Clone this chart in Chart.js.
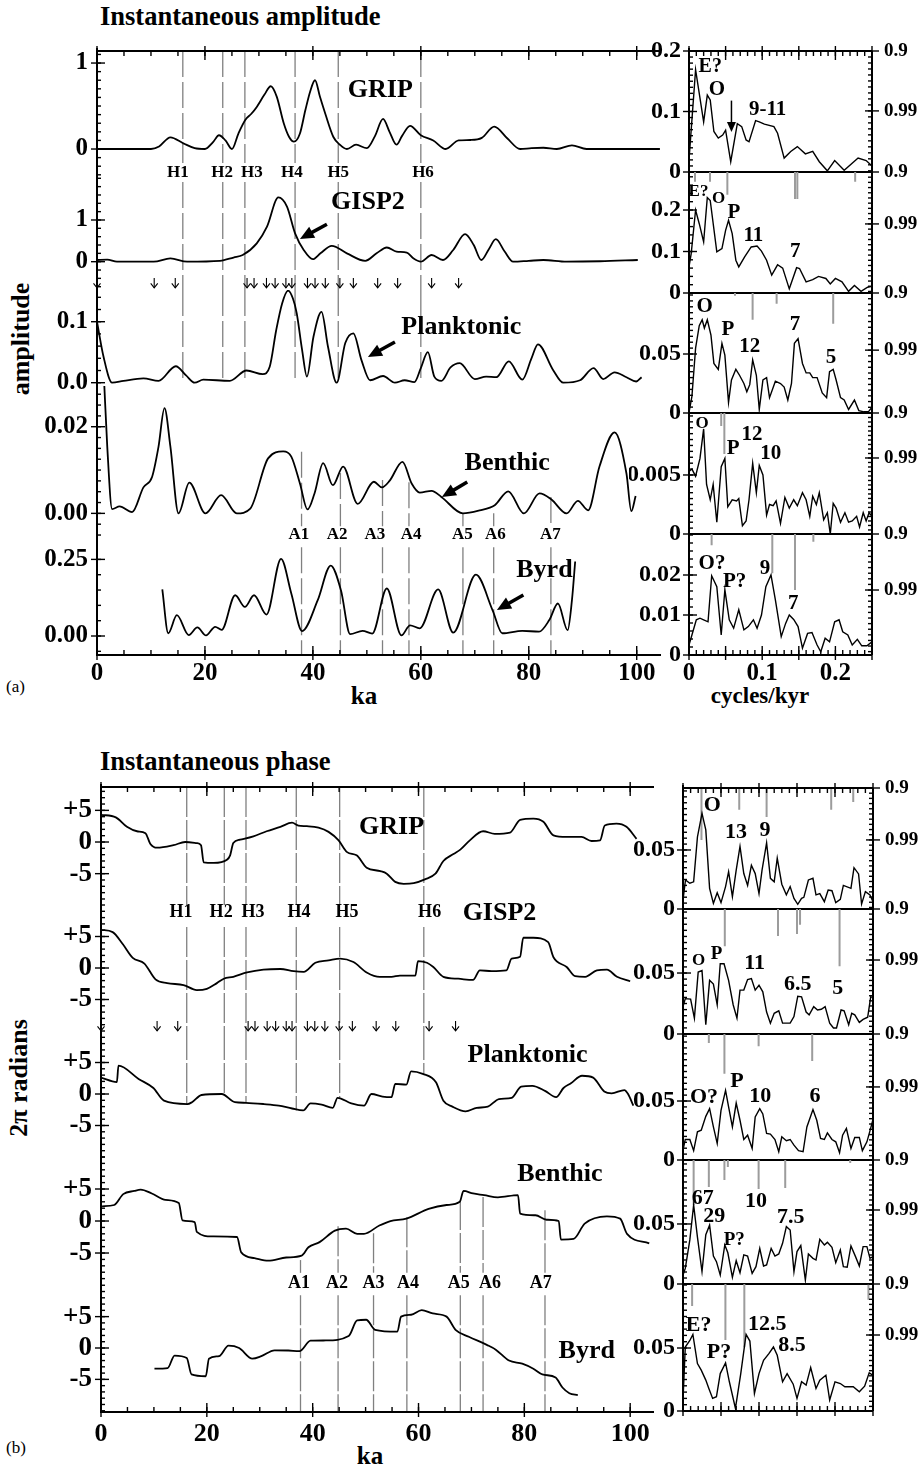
<!DOCTYPE html>
<html><head><meta charset="utf-8">
<script src="https://cdn.jsdelivr.net/npm/chart.js"></script>
<style>
body{margin:0;background:#fff;}
#page{position:relative;width:919px;height:1469px;overflow:hidden;background:#fff;font-family:'Liberation Serif','Times New Roman',serif;}
canvas{position:absolute;}
.t{position:absolute;white-space:nowrap;color:#000;font-weight:bold;}
.c{transform:translateX(-50%);}
.r{transform:translate(-50%,-50%) rotate(-90deg);}
</style></head><body><div id="page">
<div class="t" style="left:100px;top:3px;font-size:26.5px;line-height:26px">Instantaneous amplitude</div>
<div class="t" style="left:100px;top:748px;font-size:26.5px;line-height:26px">Instantaneous phase</div>
<div class="t" style="left:6px;top:678px;font-size:17px;line-height:17px;font-weight:normal">(a)</div>
<div class="t" style="left:6px;top:1439px;font-size:17px;line-height:17px;font-weight:normal">(b)</div>
<div class="t c" style="left:364px;top:683px;font-size:25px;line-height:25px">ka</div>
<div class="t c" style="left:370px;top:1443px;font-size:25px;line-height:25px">ka</div>
<div class="t c" style="left:760px;top:684px;font-size:23px;line-height:23px">cycles/kyr</div>
<div class="t r" style="left:21px;top:339px;font-size:26px;line-height:26px">amplitude</div>
<div class="t r" style="left:19px;top:1078px;font-size:26px;line-height:26px">2π radians</div>
</div>
<script>
// ===================== DATA =====================
// Panel (a): instantaneous amplitude, [ka, amplitude]
const ampGrip = [[0,0],[5,0],[10,0],[11.5,0.03],[13.6,0.136],[16,0.066],[18.1,0.01],[20,0],[21.5,0.08],[22.6,0.16],[23.8,0.1],[25,0],[26.2,0.18],[27.5,0.34],[28.6,0.41],[29.6,0.49],[31,0.63],[32.2,0.73],[33.3,0.61],[34.6,0.30],[35.6,0.14],[36.5,0.085],[37.6,0.18],[38.6,0.45],[39.5,0.67],[40.4,0.80],[41.3,0.61],[42.3,0.41],[43.8,0.14],[45,0.05],[46.3,0],[48,0.05],[50,0.01],[51.5,0.15],[53,0.35],[54.2,0.2],[55.5,0.05],[56.5,0.15],[58,0.27],[60,0.16],[62.3,0.1],[64.6,0],[67,0.1],[69.2,0.105],[71.3,0.13],[73.6,0.26],[76,0.125],[78.4,0],[80.5,0.01],[82.7,0.015],[85.2,0],[88,0.043],[90.7,0],[95,0],[99.4,0],[104.3,0]];
const ampGisp2 = [[0,0.04],[1.9,0.05],[3.7,0],[10.5,0],[13.6,0.08],[16.7,0],[22.8,0.02],[25.3,0.1],[27,0.16],[29.6,0.44],[31.5,0.84],[33.6,1.54],[35.2,1.32],[36.7,0.68],[38.3,0.28],[40,0.06],[41.4,0.2],[43.5,0.38],[46.3,0.2],[49.7,0.02],[51.8,0.2],[53.7,0.34],[55.5,0.24],[57.4,0.22],[58.6,0.08],[60,0],[62,0.16],[64.1,0.04],[66,0.28],[68.2,0.66],[69.8,0.4],[71.2,0.04],[72.6,0.3],[73.9,0.54],[75.5,0.25],[77.1,0],[80,0.02],[82.7,0.04],[87,0],[93.2,0.01],[100.2,0.04]];
const ampPlank = [[0,0.10],[1.2,0.043],[2.8,0],[4.9,0.003],[8.6,0.007],[11.4,0.003],[14.6,0.027],[16.5,0.012],[18.1,0],[19.7,0.005],[24.6,0.003],[27.7,0.02],[30.7,0.014],[32,0.026],[33.2,0.086],[34.3,0.13],[35.4,0.151],[36.3,0.138],[37,0.114],[38,0.054],[38.9,0.01],[40.1,0.075],[41.6,0.116],[42.8,0.059],[44.4,0],[46,0.065],[47.5,0.081],[49,0.037],[50.6,0.004],[53,0.011],[55.2,0],[57,0.004],[58.8,0.001],[60,0.024],[61.3,0.05],[62.5,0.01],[63.8,0.003],[65.5,0.025],[67.2,0.032],[70,0.006],[72.1,0.01],[74,0.009],[76.3,0.035],[78.8,0.005],[80.5,0.04],[81.7,0.063],[84.5,0.021],[86.4,0],[89.5,0.004],[92,0.024],[93.8,0.006],[95.9,0.017],[98.1,0.009],[99.9,0.002],[100.9,0.009]];
const ampBenth = [[1.3,0.031],[1.9,0.0154],[2.8,0.001],[4.2,0.0016],[6.5,0.0003],[8.6,0.006],[10.2,0.0084],[11.4,0.0154],[12.5,0.0243],[13.6,0.0154],[15.1,0],[17.1,0.0071],[20.1,0],[23,0.0042],[25.9,0],[28.4,0.0011],[31.7,0.0127],[34.5,0.0143],[36,0.0131],[37.6,0.0069],[39,0.0009],[40.3,0.0046],[41.9,0.0116],[43.7,0.0065],[45.6,0.0108],[48.3,0.0022],[51.3,0.0073],[52.8,0.006],[54.2,0.0075],[56.6,0.0119],[58.3,0.0069],[59.8,0.0048],[62,0.0052],[63.8,0.0038],[67.8,0],[70.9,0.0007],[73.7,0.0019],[76.2,0.0051],[79.1,0],[82,0.0046],[84.2,0.0032],[87,0],[89.1,0.0029],[91,0.0007],[93.1,0.0108],[95.9,0.0187],[98.1,0.0092],[99,0.0005],[99.8,0.004]];
const ampByrd = [[12.1,0.152],[13.2,0.009],[14.8,0.068],[17,0.003],[18.6,0.028],[20.2,0.002],[21.9,0.03],[23.1,0.02],[25.6,0.133],[27.4,0.095],[29.1,0.133],[31.4,0.07],[34.1,0.252],[36,0.139],[38,0.016],[40.9,0.117],[43.3,0.23],[45.2,0.149],[46.9,0.006],[49.2,0.017],[51,0.008],[53.7,0.155],[56.4,0.002],[58,0.035],[59.8,0.025],[63.2,0.152],[66,0.011],[70.2,0.2],[73.3,0.084],[75.1,0.009],[78.8,0.017],[81.9,0.014],[83.8,0.052],[85.4,0.106],[87.2,0.019],[88,0.117],[88.6,0.243]];

// Panel (a) spectra, [cycles/kyr, power]
const specAGrip = [[0,0.02],[0.009,0.169],[0.02,0.083],[0.025,0.127],[0.029,0.119],[0.034,0.067],[0.04,0.056],[0.046,0.061],[0.05,0.069],[0.057,0.017],[0.066,0.08],[0.072,0.075],[0.078,0.053],[0.082,0.05],[0.091,0.085],[0.096,0.083],[0.103,0.079],[0.116,0.075],[0.121,0.064],[0.13,0.023],[0.139,0.034],[0.148,0.042],[0.159,0.03],[0.169,0.034],[0.178,0.017],[0.189,0.002],[0.199,0.019],[0.212,0.003],[0.231,0.023],[0.242,0.019],[0.25,0.01]];
const specAGisp2 = [[0,0.063],[0.003,0.095],[0.009,0.2],[0.014,0.167],[0.02,0.123],[0.025,0.23],[0.029,0.223],[0.038,0.099],[0.045,0.107],[0.05,0.151],[0.054,0.175],[0.059,0.143],[0.064,0.079],[0.068,0.063],[0.076,0.087],[0.085,0.111],[0.093,0.113],[0.099,0.101],[0.106,0.079],[0.113,0.043],[0.121,0.068],[0.128,0.06],[0.137,0.01],[0.147,0.061],[0.151,0.059],[0.16,0.027],[0.169,0.032],[0.177,0.04],[0.187,0.035],[0.193,0.022],[0.2,0.035],[0.209,0.027],[0.218,0.004],[0.226,0.018],[0.235,0.004],[0.244,0.014],[0.25,0.016]];
const specAPlank = [[0,0.0006],[0.004,0.014],[0.009,0.055],[0.014,0.074],[0.018,0.079],[0.021,0.072],[0.025,0.079],[0.03,0.066],[0.034,0.042],[0.04,0.037],[0.045,0.059],[0.049,0.049],[0.054,0.009],[0.058,0.028],[0.064,0.037],[0.069,0.032],[0.075,0.025],[0.079,0.018],[0.083,0.024],[0.087,0.045],[0.092,0.032],[0.096,0.003],[0.101,0.028],[0.106,0.03],[0.11,0.013],[0.118,0.027],[0.125,0.025],[0.13,0.022],[0.135,0.011],[0.14,0.025],[0.144,0.059],[0.149,0.063],[0.155,0.042],[0.16,0.034],[0.165,0.034],[0.169,0.03],[0.175,0.03],[0.182,0.017],[0.188,0.013],[0.192,0.035],[0.197,0.037],[0.201,0.028],[0.207,0.013],[0.212,0.011],[0.218,0.003],[0.226,0.011],[0.232,0.002],[0.239,0.001],[0.245,0.001],[0.25,0.005]];
const specABenth = [[0,0.0053],[0.004,0.0055],[0.009,0.0049],[0.015,0.0064],[0.02,0.0089],[0.024,0.0042],[0.029,0.0029],[0.033,0.0042],[0.038,0.001],[0.044,0.0057],[0.049,0.0064],[0.053,0.0023],[0.059,0.0029],[0.065,0.0028],[0.068,0.003],[0.073,0.0007],[0.078,0.0011],[0.082,0.0029],[0.087,0.006],[0.092,0.0035],[0.096,0.0058],[0.101,0.005],[0.106,0.0016],[0.11,0.0025],[0.115,0.0024],[0.119,0.0028],[0.125,0.0009],[0.131,0.0031],[0.137,0.0022],[0.143,0.0029],[0.148,0.0024],[0.155,0.0035],[0.16,0.0029],[0.165,0.0015],[0.169,0.0032],[0.174,0.0025],[0.178,0.0035],[0.184,0.0012],[0.189,0.0018],[0.193,0],[0.197,0.0026],[0.201,0.0022],[0.207,0.001],[0.213,0.0018],[0.218,0.001],[0.223,0.0011],[0.229,0.0015],[0.233,0.0006],[0.238,0.0018],[0.242,0.0011],[0.246,0.0018],[0.25,0.0015]];
const specAByrd = [[0,0.0025],[0.004,0.005],[0.01,0.0088],[0.015,0.0092],[0.02,0.0088],[0.026,0.0083],[0.031,0.0198],[0.038,0.0171],[0.044,0.005],[0.049,0.0163],[0.055,0.0088],[0.061,0.0067],[0.068,0.0113],[0.075,0.0063],[0.081,0.0071],[0.088,0.0088],[0.093,0.0067],[0.099,0.01],[0.105,0.0171],[0.112,0.02],[0.118,0.0138],[0.126,0.0046],[0.132,0.0079],[0.137,0.01],[0.143,0.0089],[0.149,0.0071],[0.155,0.0017],[0.162,0.0054],[0.168,0.0056],[0.175,0.0025],[0.18,0.0008],[0.186,0.0042],[0.192,0.0033],[0.199,0.0083],[0.205,0.0088],[0.21,0.0058],[0.217,0.005],[0.223,0.0025],[0.23,0.0039],[0.236,0.0023],[0.243,0.0023],[0.25,0.0033]];

// Panel (b): instantaneous phase, [ka, 2pi radians]
const phGrip = [[0,4.3],[2.8,3.9],[4.9,2.4],[6.8,1.7],[8.4,1.4],[9.3,-0.26],[10.6,-0.9],[13.7,-0.5],[15.9,0],[18.1,-0.16],[18.9,-0.5],[19.4,-3.2],[21.3,-3.3],[23.8,-2.8],[24.4,-2.1],[25,-0.16],[26.3,0.37],[28.8,0.9],[31.3,1.7],[33.9,2.4],[36.1,3.05],[37.3,2.6],[38.9,2.5],[41.1,2.26],[43,1.6],[44.9,0.26],[46.5,-1.6],[48.3,-2.1],[50.2,-4.05],[52.8,-4.6],[54,-5],[55.6,-6.3],[57.2,-6.6],[59.1,-6.5],[61.2,-5.9],[63.2,-5.0],[64.7,-3.0],[66.6,-1.9],[67.9,-1.2],[69.7,0.26],[72.2,1.7],[74.4,1.3],[77.3,1.5],[79.2,3.5],[81.7,3.7],[83.6,3.2],[85.5,1.05],[88,0.8],[90.8,0.8],[92.7,0.16],[94.3,0.26],[95.2,2.6],[97.4,2.9],[99.3,2.4],[101.2,0.5]];
const phGisp2 = [[0,6.05],[2.2,5.7],[4.1,3.8],[6,1.6],[8.2,0.7],[10.3,-1.8],[12.5,-2.4],[15.6,-2.7],[18.1,-3.5],[20,-3.3],[21.9,-2.4],[23.2,-1.7],[25,-1.4],[27.6,-0.7],[30.7,-0.26],[33.9,-0.16],[36.4,-0.5],[38.3,-0.6],[40.5,0.84],[43,1.2],[45.2,1.5],[47.7,0.95],[50.2,-0.7],[52.7,-1.4],[54.9,-1.4],[56.5,-1.2],[59.4,-1.2],[59.9,1.1],[61.6,0.84],[62.8,0.16],[64.7,-1.4],[67.5,-1.7],[70.3,-1.9],[71.6,-0.37],[73.8,-0.5],[76.6,-0.37],[77.6,1.5],[79.2,1.8],[79.8,4.8],[81.7,4.8],[84.5,4.1],[85.5,1.7],[88,0.16],[89.6,-1.3],[91.5,-1.4],[93.7,-0.37],[95.6,-0.26],[97.5,-1.4],[100,-2.1]];
const phPlank = [[0,2.6],[3.0,1.9],[3.3,4.5],[7.1,2.4],[9.9,0.95],[11.9,-1.06],[16.3,-1.6],[17.2,-1.3],[19,-0.16],[22.8,0],[25.3,-1.3],[27.4,-1.4],[30.8,-1.6],[33.6,-1.85],[36.1,-2.3],[38.2,-2.6],[39.6,-1.5],[41.7,-1.7],[43.8,-2.2],[44.7,-0.6],[47.3,-1.5],[49.7,-1.85],[51.1,0],[53.2,-0.4],[54.9,-0.5],[55.6,1.6],[57.7,1.5],[58.6,3.6],[60.8,3.2],[63.3,1.85],[64.7,-1.06],[66.4,-2.0],[68.9,-2.75],[71,-2.2],[73.1,-2.0],[75.2,-0.8],[77.6,-0.6],[79.4,1.16],[81.5,1.3],[83.9,0.5],[86,-0.5],[87.4,0.95],[88.8,1.7],[90.9,2.9],[93,2.6],[95.1,0.4],[96.5,0.1],[98.9,0.63],[99.6,0],[100.6,-1.85]];
const phBenth = [[0.2,2.3],[2.5,2.5],[4.2,4.2],[6.3,4.7],[7.5,4.9],[9.6,4.3],[12.2,3.3],[14.7,2.8],[15.4,0.1],[17.7,-0.16],[18.1,-1.7],[21,-2.4],[25.7,-2.5],[26.5,-4.9],[29,-5.8],[31.6,-6.2],[35,-5.7],[37.9,-5.4],[39.2,-4.1],[41.3,-3.3],[44.2,-1.5],[46.3,-1.2],[48.4,-2.0],[49.7,-2.0],[52.6,-0.7],[54.7,0],[57.7,0.37],[61.9,1.9],[65.3,2.5],[67.8,3.0],[68.5,4.7],[70.3,4.3],[72.4,4.05],[75,3.7],[78.8,4.05],[79.2,1.16],[82.1,0.9],[84.2,0.2],[86.5,0],[86.9,-2.9],[89.3,-2.8],[91.4,-0.4],[95.6,0.74],[98.1,0.37],[99.4,-2.0],[103.6,-3.5]];
const phByrd = [[10.1,-3.3],[12.6,-3.2],[13.9,-1.2],[16.2,-1.6],[17.1,-4.2],[19.8,-4.5],[20.4,-1.7],[22.3,-1.3],[24.1,0.37],[26.1,0],[28.6,-1.7],[30.3,-1.3],[32.8,-0.37],[35.4,-0.4],[37.5,-0.5],[39.6,1.16],[42.5,1.2],[46.8,1.9],[48.4,4.4],[50.1,4.5],[51.8,2.9],[56,2.6],[56.7,5.0],[58.6,5.3],[60.6,6.05],[62.7,5.5],[65.3,5.0],[67,2.9],[69.5,1.8],[72.9,0.5],[74.6,-0.26],[77.1,-2.0],[79.6,-2.5],[81.7,-3.3],[83.4,-4.2],[85.9,-4.7],[87.2,-6.3],[88.5,-7.2],[90.1,-7.5]];

// Panel (b) spectra, [cycles/kyr, power]
const specBGrip = [[0,0.0076],[0.0033,0.0246],[0.009,0.0218],[0.014,0.023],[0.019,0.061],[0.025,0.081],[0.03,0.067],[0.035,0.0175],[0.04,0.0048],[0.045,0.0138],[0.05,0.0054],[0.056,0.019],[0.06,0.0316],[0.065,0.0105],[0.07,0.033],[0.075,0.053],[0.08,0.03],[0.085,0.02],[0.09,0.037],[0.095,0.03],[0.1,0.013],[0.104,0.033],[0.11,0.056],[0.115,0.026],[0.12,0.023],[0.124,0.043],[0.13,0.021],[0.136,0.012],[0.141,0.019],[0.146,0.009],[0.151,0.004],[0.156,0.009],[0.159,0.0099],[0.165,0.0246],[0.171,0.026],[0.175,0.012],[0.18,0.013],[0.186,0.0062],[0.191,0.016],[0.196,0.0155],[0.201,0.0054],[0.207,0.0082],[0.211,0.02],[0.221,0.0175],[0.225,0.035],[0.231,0.0297],[0.235,0.0042],[0.24,0.0147],[0.246,0.0119],[0.25,0.0062]];
const specBGisp2 = [[0,0.0224],[0.003,0.029],[0.01,0.0286],[0.015,0.013],[0.02,0.0508],[0.025,0.052],[0.03,0.0076],[0.035,0.044],[0.04,0.041],[0.045,0.024],[0.049,0.0576],[0.054,0.0576],[0.06,0.044],[0.066,0.024],[0.071,0.013],[0.075,0.036],[0.08,0.036],[0.085,0.0446],[0.09,0.0454],[0.095,0.036],[0.1,0.04],[0.105,0.0346],[0.11,0.018],[0.115,0.0089],[0.12,0.017],[0.126,0.019],[0.131,0.0089],[0.141,0.0089],[0.146,0.0143],[0.151,0.031],[0.156,0.0305],[0.162,0.018],[0.166,0.0157],[0.172,0.0224],[0.177,0.0197],[0.182,0.0203],[0.187,0.0224],[0.193,0.0089],[0.198,0.0049],[0.202,0.0049],[0.208,0.0197],[0.212,0.019],[0.218,0.0076],[0.222,0.017],[0.226,0.0157],[0.232,0.0095],[0.237,0.012],[0.243,0.0138],[0.247,0.0305],[0.25,0.03]];
const specBPlank = [[0,0.0084],[0.003,0.0174],[0.009,0.0174],[0.014,0.0079],[0.019,0.0239],[0.024,0.0253],[0.03,0.037],[0.035,0.0435],[0.04,0.028],[0.045,0.014],[0.05,0.042],[0.056,0.059],[0.06,0.045],[0.065,0.028],[0.07,0.0483],[0.075,0.0337],[0.08,0.0174],[0.085,0.021],[0.091,0.0098],[0.095,0.0365],[0.101,0.0435],[0.105,0.039],[0.11,0.0225],[0.115,0.022],[0.121,0.0174],[0.126,0.007],[0.13,0.0197],[0.136,0.0163],[0.141,0.0174],[0.146,0.0126],[0.152,0.0079],[0.158,0.007],[0.163,0.028],[0.171,0.0427],[0.176,0.0337],[0.181,0.0183],[0.186,0.0174],[0.19,0.023],[0.196,0.0174],[0.201,0.0154],[0.206,0.0062],[0.21,0.021],[0.215,0.0267],[0.221,0.0098],[0.226,0.0191],[0.232,0.0191],[0.236,0.0079],[0.242,0.0154],[0.246,0.0247],[0.25,0.0343]];
const specBBenth = [[0,0.0075],[0.003,0.013],[0.009,0.0367],[0.014,0.0658],[0.019,0.039],[0.025,0.0103],[0.03,0.041],[0.035,0.049],[0.04,0.0233],[0.044,0.0186],[0.049,0.0075],[0.055,0.0325],[0.059,0.026],[0.065,0.0056],[0.07,0.0194],[0.075,0.0094],[0.08,0.0242],[0.085,0.0233],[0.091,0.0089],[0.096,0.0144],[0.101,0.0297],[0.106,0.015],[0.11,0.0158],[0.116,0.0297],[0.121,0.0233],[0.126,0.025],[0.131,0.0339],[0.136,0.0478],[0.141,0.045],[0.146,0.0103],[0.15,0.027],[0.155,0.032],[0.161,0.0033],[0.165,0.025],[0.171,0.0214],[0.175,0.02],[0.18,0.0372],[0.186,0.0325],[0.19,0.0347],[0.196,0.0306],[0.201,0.0178],[0.207,0.0283],[0.211,0.0144],[0.216,0.0139],[0.221,0.0317],[0.227,0.0228],[0.232,0.015],[0.237,0.0311],[0.242,0.0311],[0.246,0.0214],[0.25,0.0228]];
const specBByrd = [[0,0.0087],[0.003,0.0508],[0.009,0.056],[0.013,0.0608],[0.019,0.0376],[0.024,0.0324],[0.03,0.0245],[0.034,0.0179],[0.039,0.01],[0.044,0.0113],[0.049,0.0297],[0.056,0.0382],[0.061,0.0232],[0.069,0.0021],[0.076,0.0297],[0.083,0.0608],[0.088,0.0555],[0.094,0.0139],[0.1,0.0297],[0.106,0.0403],[0.113,0.0455],[0.119,0.0508],[0.124,0.0442],[0.131,0.0232],[0.137,0.0297],[0.145,0.0213],[0.15,0.01],[0.156,0.0232],[0.162,0.0205],[0.168,0.0345],[0.175,0.0179],[0.18,0.0245],[0.188,0.0284],[0.193,0.0087],[0.2,0.0232],[0.207,0.0218],[0.213,0.0192],[0.224,0.0192],[0.232,0.0153],[0.239,0.0197],[0.245,0.0303],[0.25,0.0284]];

// Significance markers hanging from panel tops: [frequency, -log10(1-p)]  (1 = 0.9, 2 = 0.99)
const sigAGrip = [];
const sigAGisp2 = [[0.0082,1.19],[0.0287,1.19],[0.0524,1.44],[0.1448,1.52],[0.148,1.52],[0.227,1.19]];
const sigAPlank = [[0.0628,1.05],[0.0869,1.47],[0.1197,1.19],[0.197,1.54]];
const sigABenth = [[0.044,1.29],[0.0483,1.91]];
const sigAByrd = [[0.0309,1.2],[0.1138,1.7],[0.1448,2.0],[0.1699,1.14]];
const sigBGrip = [[0.0243,2.0],[0.074,1.42],[0.11,1.56],[0.195,1.42],[0.224,1.27]];
const sigBGisp2 = [[0.055,1.73],[0.125,1.53],[0.15,1.49],[0.154,1.31],[0.206,2.12]];
const sigBPlank = [[0.034,1.17],[0.0545,1.75],[0.0995,1.23],[0.17,1.51]];
const sigBBenth = [[0.014,1.9],[0.034,1.54],[0.0545,1.4],[0.059,1.14],[0.0995,1.58],[0.1345,1.56],[0.22,1.06]];
const sigBByrd = [[0.012,1.43],[0.0558,2.1],[0.0807,2.24],[0.244,1.31]];
const sigLabels = ['0.9','0.99'];

// Events (ka)
const hLabels = ['H1','H2','H3','H4','H5','H6'];
const aLabels = ['A1','A2','A3','A4','A5','A6','A7'];
const hEventsA = [15.9,23.3,27.4,36.7,44.7,60.0];
const hEventsB = [16.2,23.3,27.4,36.9,45.1,61.0];
const aEventsA = [37.9,45.1,52.9,57.8,67.8,73.5,84.1];
const aEventsB = [37.7,44.8,51.5,57.8,67.9,72.2,83.9];
const hLabelKaA = [15,23.2,28.7,36.1,44.7,60.4];
const hLabelKaB = [15.1,22.7,28.7,37.4,46.5,62.1];
const aLabelKaA = [37.4,44.5,51.5,58.2,67.7,73.8,84.0];
const aLabelKaB = [37.4,44.6,51.5,58,67.6,73.5,83.1];
const aTopA = [0.0142,0.0093,0.0077,0.0072,0,0,0.0038];
const aTopB = [-6.1,-0.8,-1.9,0.6,3.3,3.75,1.7];
const hEndB = [-1.6,0,-1.4,-2.6,-0.6,3.2];
const doArrows = [0,10.6,14.5,27.8,29.1,31.4,33.0,35.0,36.1,39.0,40.4,42.3,45.0,47.5,52.0,55.7,62.0,67.0];

const kaTicks = [0,20,40,60,80,100];
const freqTicks = [0,0.1,0.2];

// ===================== DRAWING =====================
const FF = "'Liberation Serif','Times New Roman',serif";
const page = document.getElementById('page');
const M = 30;
const fmtInt = v => String(v);
const fmt1 = v => v.toFixed(1);
const fmt2 = v => v.toFixed(2);
const fmtSigned = v => v > 0 ? '+' + v : String(v);
const fmtSpec = v => v === 0 ? '0' : String(v);

function pts(arr){ return arr.map(p => ({x:p[0], y:p[1]})); }
function sigPts(arr){ const out=[]; arr.forEach(p=>{ out.push({x:p[0],y:1},{x:p[0],y:p[1]},{x:p[0],y:null}); }); return out; }
function L(ctx,a,b,c,d){ ctx.beginPath(); ctx.moveTo(a,b); ctx.lineTo(c,d); ctx.stroke(); }

function decoPlugin(o){
  return {
    id:'deco',
    beforeDatasetsDraw(chart){
      const ctx=chart.ctx, a=chart.chartArea;
      const X=v=>chart.scales.x.getPixelForValue(v), Y=v=>chart.scales.y.getPixelForValue(v);
      ctx.save(); ctx.strokeStyle='#808080'; ctx.lineWidth=1.3;
      (o.vlines||[]).forEach(l=>{
        ctx.setLineDash(l.dash||[26,5]);
        const ya = l.y0==null ? a.top : Y(l.y0), yb = l.y1==null ? a.bottom : Y(l.y1);
        L(ctx,X(l.x),ya,X(l.x),yb);
      });
      ctx.restore();
    },
    afterDraw(chart){
      const ctx=chart.ctx, a=chart.chartArea;
      const X=v=>chart.scales.x.getPixelForValue(v), Y=v=>chart.scales.y.getPixelForValue(v);
      ctx.save(); ctx.strokeStyle='#000'; ctx.fillStyle='#000'; ctx.setLineDash([]);
      const f=o.frame||{};
      ctx.lineWidth=2;
      L(ctx,a.left,a.top-(f.top?3:0),a.left,a.bottom);
      if(f.top) L(ctx,a.left-1,a.top,a.right,a.top);
      if(f.bottom) L(ctx,a.left-1,a.bottom,a.right,a.bottom);
      if(f.right) L(ctx,a.right,a.top,a.right,a.bottom);
      ctx.lineWidth=1.4;
      const ymin=o.y[0], ymax=o.y[1];
      if(o.yMinor){ const st=o.yMinor; for(let k=Math.ceil(ymin/st-1e-6); k*st<=ymax+1e-9; k++){ const p=Y(k*st); L(ctx,a.left,p,a.left+4,p); } }
      (o.yTicks||[]).forEach(v=>{ const p=Y(v); L(ctx,a.left-6,p,a.left+8,p); });
      const xt=(spec,top)=>{
        if(!spec) return;
        const xmin=o.x[0], xmax=o.x[1]; const e=top?a.top:a.bottom, s=top?1:-1;
        for(let k=Math.ceil(xmin/spec.minor-1e-6); k*spec.minor<=xmax+1e-9; k++){ const p=X(k*spec.minor); L(ctx,p,e,p,e+s*5); }
        for(let k=Math.ceil(xmin/spec.major-1e-6); k*spec.major<=xmax+1e-9; k++){ const p=X(k*spec.major); L(ctx,p,e-s*5,p,e+s*9); }
      };
      xt(o.xTop,true); xt(o.xBottom,false);
      if(o.sig){
        const S=v=>chart.scales.ys.getPixelForValue(v);
        for(let k=10; k/10<=o.sig.max+1e-9; k++){ const p=S(k/10); L(ctx,a.right-4,p,a.right,p); }
        [1,2].forEach(v=>{ const p=S(v); L(ctx,a.right-7,p,a.right+7,p); });
      }
      if(o.small){
        ctx.lineWidth=1.1;
        o.small.xs.forEach(x=>{ const px=X(x), py=Y(o.small.y);
          L(ctx,px,py,px,py+10);
          ctx.beginPath(); ctx.moveTo(px-3.5,py+5.5); ctx.lineTo(px,py+10); ctx.lineTo(px+3.5,py+5.5); ctx.stroke(); });
      }
      (o.arrows||[]).forEach(r=>{
        const xa=X(r[0]), ya=Y(r[1]), xb=X(r[2]), yb=Y(r[3]);
        const w=r[4]||3.5, hl=r[5]||14;
        const ang=Math.atan2(yb-ya,xb-xa), c=Math.cos(ang), s=Math.sin(ang);
        ctx.lineWidth=w; L(ctx,xa,ya,xb-c*hl*0.8,yb-s*hl*0.8);
        ctx.beginPath(); ctx.moveTo(xb,yb);
        ctx.lineTo(xb-c*hl+s*hl*0.45, yb-s*hl-c*hl*0.45);
        ctx.lineTo(xb-c*hl-s*hl*0.45, yb-s*hl+c*hl*0.45);
        ctx.closePath(); ctx.fill();
      });
      ctx.textAlign='center'; ctx.textBaseline='middle';
      (o.texts||[]).forEach(t=>{ ctx.font='bold '+t[3]+'px '+FF; ctx.fillText(t[0],X(t[1]),Y(t[2])); });
      ctx.restore();
    }
  };
}

function addChart(o){
  const x0=o.area[0], y0=o.area[1], x1=o.area[2], y1=o.area[3];
  const lw=o.lw, rw=o.rw||0, bh=o.bh||0;
  const W=Math.round(x1-x0+lw+rw+2*M), H=Math.round(y1-y0+bh+2*M);
  const cv=document.createElement('canvas');
  cv.width=W; cv.height=H;
  cv.style.left=(x0-lw-M)+'px'; cv.style.top=(y0-M)+'px';
  cv.style.width=W+'px'; cv.style.height=H+'px';
  page.appendChild(cv);
  const ds=[];
  if(o.sig && o.sig.lines.length) ds.push({data:sigPts(o.sig.lines),borderColor:'#9c9c9c',borderWidth:2,pointRadius:0,yAxisID:'ys',xAxisID:'x',spanGaps:false,order:2});
  o.series.forEach(s=>ds.push({data:pts(s),borderColor:'#000',borderWidth:o.lineW||1.8,pointRadius:0,fill:false,tension:0,
      cubicInterpolationMode:o.smooth?'monotone':'default',yAxisID:'y',xAxisID:'x',order:1}));
  const scales={
    x:{type:'linear',position:'bottom',min:o.x[0],max:o.x[1],display:!!o.xLabels,
       grid:{display:false,drawTicks:false},border:{display:false},
       afterBuildTicks:s=>{ if(o.xLabels) s.ticks=o.xLabels.map(v=>({value:v})); },
       ticks:{autoSkip:false,maxRotation:0,minRotation:0,padding:o.xPad||4,color:'#000',
              font:{family:FF,size:o.xFont||24,weight:'bold'},callback:v=>(o.xFmt||String)(v)},
       afterFit:s=>{ s.height=bh; s.paddingLeft=0; s.paddingRight=0; }},
    y:{type:'linear',position:'left',min:o.y[0],max:o.y[1],
       grid:{display:false,drawTicks:false},border:{display:false},
       afterBuildTicks:s=>{ s.ticks=o.yTicks.map(v=>({value:v})); },
       ticks:{autoSkip:false,padding:o.yPad||9,color:'#000',font:{family:FF,size:o.yFont||24,weight:'bold'},callback:v=>o.yFmt(v)},
       afterFit:s=>{ s.width=lw; s.paddingTop=0; s.paddingBottom=0; }}
  };
  if(o.sig) scales.ys={type:'linear',position:'right',reverse:true,min:1,max:o.sig.max,
       grid:{display:false,drawTicks:false},border:{display:false},
       afterBuildTicks:s=>{ s.ticks=[{value:1},{value:2}]; },
       ticks:{autoSkip:false,padding:12,color:'#000',font:{family:FF,size:19,weight:'bold'},callback:v=>sigLabels[Math.round(v)-1]},
       afterFit:s=>{ s.width=rw; s.paddingTop=0; s.paddingBottom=0; }};
  new Chart(cv,{type:'line',data:{datasets:ds},
    options:{responsive:false,animation:false,devicePixelRatio:1,layout:{padding:M},events:[],
      plugins:{legend:{display:false},tooltip:{enabled:false}},scales},
    plugins:[decoPlugin(o)]});
}

// ---------- Panel (a), left: amplitude time series ----------
const KA = [0,104.5];
const baseA = {lw:85, x:KA, smooth:true, lineW:1.8, yFont:25};
addChart(Object.assign({},baseA,{area:[97,51,661,178], y:[-0.337,1.14], yTicks:[0,1], yFmt:fmtInt, yMinor:0.1,
  frame:{top:true}, xTop:{minor:5,major:20}, series:[ampGrip],
  vlines:hEventsA.map(x=>({x, y1:-0.163})),
  texts:[['GRIP',52.5,0.686,26]].concat(hLabels.map((h,i)=>[h,hLabelKaA[i],-0.28,17]))}));
addChart(Object.assign({},baseA,{area:[97,178,661,290], y:[-0.679,2.007], yTicks:[0,1], yFmt:fmtInt, yMinor:0.2,
  series:[ampGisp2], vlines:hEventsA.map(x=>({x, y0:1.91})),
  small:{xs:doArrows, y:-0.39}, arrows:[[42.6,0.9,37.6,0.544]],
  texts:[['GISP2',50.2,1.43,26]]}));
addChart(Object.assign({},baseA,{area:[97,290,661,386], y:[-0.0054,0.152], yTicks:[0,0.1], yFmt:fmt1, yMinor:0.02,
  series:[ampPlank], vlines:hEventsA.map(x=>({x, y1:0})),
  arrows:[[55.2,0.0667,50.2,0.0421]], texts:[['Planktonic',67.5,0.0913,26]]}));
addChart(Object.assign({},baseA,{area:[97,386,661,545], y:[-0.0073,0.0294], yTicks:[0,0.02], yFmt:fmt2, yMinor:0.0025,
  series:[ampBenth], vlines:aEventsA.map((x,i)=>({x, y0:aTopA[i], y1:-0.003})),
  arrows:[[68.6,0.00723,63.9,0.00376]],
  texts:[['Benthic',76,0.0116,26]].concat(aLabels.map((h,i)=>[h,aLabelKaA[i],-0.005,17]))}));
addChart(Object.assign({},baseA,{area:[97,545,661,655], y:[-0.062,0.297], yTicks:[0,0.25], yFmt:fmt2, yMinor:0.05,
  bh:40, xLabels:kaTicks, xPad:4, xFont:25, frame:{bottom:true}, xBottom:{minor:5,major:20},
  series:[ampByrd], vlines:aEventsA.map(x=>({x, y0:0.29})),
  arrows:[[79,0.134,74.1,0.085]], texts:[['Byrd',82.9,0.215,26]]}));

// ---------- Panel (a), right: spectra ----------
const FR = [0,0.25];
const baseS = {lw:60, rw:50, x:FR, smooth:false, lineW:1.4, yFont:24, yFmt:fmtSpec, yPad:8};
addChart(Object.assign({},baseS,{area:[689,51,872,172], y:[0,0.2], yTicks:[0,0.1,0.2], yMinor:0.01,
  frame:{top:true,right:true,bottom:true}, xTop:{minor:0.01,major:0.05}, sig:{max:3.02, lines:sigAGrip},
  series:[specAGrip], arrows:[[0.058,0.118,0.058,0.066,1.5,10]],
  texts:[['E?',0.029,0.174,20],['O',0.038,0.137,21],['9-11',0.1075,0.104,21]]}));
addChart(Object.assign({},baseS,{area:[689,172,872,293], y:[0,0.2916], yTicks:[0,0.1,0.2], yMinor:0.02,
  frame:{right:true,bottom:true}, sig:{max:3.33, lines:sigAGisp2}, series:[specAGisp2],
  texts:[['E?',0.013,0.244,17],['O',0.0405,0.227,17],['P',0.0615,0.195,21],['11',0.088,0.1386,21],['7',0.145,0.099,21]]}));
addChart(Object.assign({},baseS,{area:[689,293,872,413], y:[0,0.1017], yTicks:[0,0.05], yMinor:0.005,
  frame:{right:true,bottom:true}, sig:{max:3.1, lines:sigAPlank}, series:[specAPlank],
  texts:[['O',0.0214,0.09,21],['P',0.053,0.0703,21],['12',0.083,0.0562,21],['7',0.1448,0.0746,21],['5',0.194,0.0472,21]]}));
addChart(Object.assign({},baseS,{area:[689,413,872,534], y:[0,0.01025], yTicks:[0,0.005], yMinor:0.0005,
  frame:{right:true,bottom:true}, sig:{max:3.69, lines:sigABenth}, series:[specABenth],
  texts:[['O',0.018,0.00935,17],['P',0.0605,0.00726,21],['12',0.086,0.00839,21],['10',0.1116,0.0068,21]]}));
addChart(Object.assign({},baseS,{area:[689,534,872,655], y:[0,0.03025], yTicks:[0,0.01,0.02], yMinor:0.002,
  bh:40, xLabels:freqTicks, xFmt:fmtSpec, xPad:4, xFont:25, frame:{right:true,bottom:true}, xBottom:{minor:0.01,major:0.05},
  sig:{max:3.16, lines:sigAByrd}, series:[specAByrd],
  texts:[['O?',0.0314,0.0229,21],['P?',0.0624,0.0183,21],['9',0.1038,0.0216,21],['7',0.1425,0.01275,21]]}));

// ---------- Panel (b), left: phase time series ----------
const baseB = {lw:85, x:KA, smooth:true, lineW:1.8, yFont:27, yTicks:[-5,0,5], yFmt:fmtSigned, yMinor:1};
addChart(Object.assign({},baseB,{area:[101,787,654,905], y:[-9.95,8.69],
  frame:{top:true}, xTop:{minor:5,major:20}, series:[phGrip],
  vlines:hEventsB.map(x=>({x, dash:[30,3]})), texts:[['GRIP',54.9,2.37,26]]}));
addChart(Object.assign({},baseB,{area:[101,905,654,1030], y:[-9.84,10.0], series:[phGisp2],
  vlines:hEventsB.map(x=>({x, y0:6.5, dash:[30,3]})), small:{xs:doArrows, y:-8.4},
  texts:[['GISP2',75.3,8.7,26]].concat(hLabels.map((h,i)=>[h,hLabelKaB[i],8.9,18]))}));
addChart(Object.assign({},baseB,{area:[101,1030,654,1157], y:[-10.0,10.16], series:[phPlank],
  vlines:hEventsB.map((x,i)=>({x, y1:hEndB[i], dash:[30,3]})), texts:[['Planktonic',80.6,6.2,26]]}));
addChart(Object.assign({},baseB,{area:[101,1157,654,1284], y:[-9.84,10.0], series:[phBenth],
  vlines:aEventsB.map((x,i)=>({x, y0:aTopB[i], y1:-8.1, dash:[30,3]})),
  texts:[['Benthic',86.7,7.3,26]].concat(aLabels.map((h,i)=>[h,aLabelKaB[i],-9.7,18]))}));
addChart(Object.assign({},baseB,{area:[101,1284,654,1412], y:[-10.2,10.2],
  bh:45, xLabels:kaTicks, xPad:7, xFont:26, frame:{bottom:true}, xBottom:{minor:5,major:20},
  series:[phByrd], vlines:aEventsB.map(x=>({x, y0:8.4, dash:[30,3]})), texts:[['Byrd',91.8,-0.6,26]]}));

// ---------- Panel (b), right: spectra ----------
const baseT = {lw:60, rw:50, x:FR, smooth:false, lineW:1.4, yFont:24, yFmt:fmtSpec, yPad:8, yTicks:[0,0.05], yMinor:0.005};
addChart(Object.assign({},baseT,{area:[683,788,873,909], y:[0,0.1025], frame:{top:true,right:true,bottom:true},
  xTop:{minor:0.01,major:0.05}, sig:{max:3.33, lines:sigBGrip}, series:[specBGrip],
  texts:[['O',0.0386,0.0881,22],['13',0.0697,0.0647,22],['9',0.108,0.067,22]]}));
addChart(Object.assign({},baseT,{area:[683,909,873,1034], y:[0,0.1025], frame:{right:true,bottom:true},
  sig:{max:3.45, lines:sigBGisp2}, series:[specBGisp2],
  texts:[['O',0.0206,0.0598,17],['P',0.0443,0.0656,19],['11',0.0943,0.058,22],['6.5',0.151,0.0407,22],['5',0.2035,0.0374,22]]}));
addChart(Object.assign({},baseT,{area:[683,1034,873,1160], y:[0,0.1068], frame:{right:true,bottom:true},
  sig:{max:3.38, lines:sigBPlank}, series:[specBPlank],
  texts:[['O?',0.0276,0.0528,22],['P',0.071,0.0667,22],['10',0.1018,0.0542,22],['6',0.1737,0.0537,22]]}));
addChart(Object.assign({},baseT,{area:[683,1160,873,1284], y:[0,0.1033], frame:{right:true,bottom:true},
  sig:{max:3.48, lines:sigBBenth}, series:[specBBenth],
  texts:[['67',0.0259,0.0717,22],['29',0.0412,0.0567,22],['P?',0.0675,0.0367,19],['10',0.096,0.0689,22],['7.5',0.1417,0.0556,22]]}));
addChart(Object.assign({},baseT,{area:[683,1284,873,1411], y:[0,0.1008], frame:{right:true,bottom:true},
  xBottom:{minor:0.01,major:0.05}, sig:{max:3.49, lines:sigBByrd}, series:[specBByrd],
  texts:[['E?',0.0206,0.0683,22],['P?',0.0474,0.0463,22],['12.5',0.111,0.0688,22],['8.5',0.1434,0.0518,22]]}));
</script></body></html>
